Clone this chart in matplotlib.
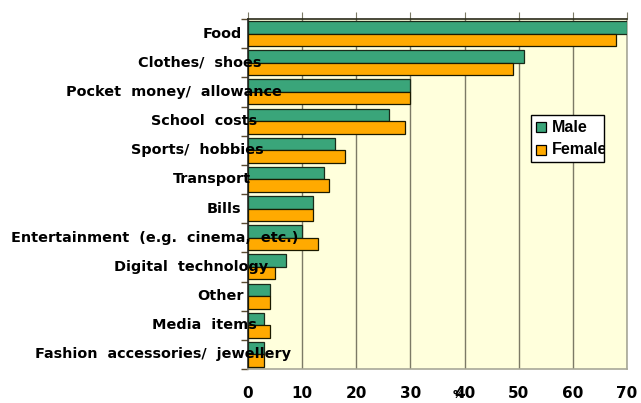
import matplotlib
matplotlib.use("Agg")
import matplotlib.pyplot as plt
import matplotlib.transforms as mtransforms
from matplotlib.patches import Rectangle
import numpy as np

categories = [
    "Food",
    "Clothes/  shoes",
    "Pocket  money/  allowance",
    "School  costs",
    "Sports/  hobbies",
    "Transport",
    "Bills",
    "Entertainment  (e.g.  cinema,  etc.)",
    "Digital  technology",
    "Other",
    "Media  items",
    "Fashion  accessories/  jewellery",
]
male = [70, 51, 30, 26, 16, 14, 12, 10, 7, 4, 3, 3]
female = [68, 49, 30, 29, 18, 15, 12, 13, 5, 4, 4, 3]
x_ticks = [0, 10, 20, 30, 40, 50, 60, 70]
series_names = ["Male", "Female"]

GREEN = "#3aa57a"
ORANGE = "#ffaa00"
BG = "#ffffdc"
GRID = "#7c7a66"

fig = plt.figure(figsize=(6.41, 4.03), dpi=100)
ax = fig.add_axes([248 / 641, 1 - 369 / 403, (627 - 248) / 641, (369 - 19) / 403])
ax.set_facecolor(BG)

n = len(categories)
y = np.arange(n)
h = 0.43
ax.barh(y - h / 2, male, height=h, color=GREEN, edgecolor="#1a2a1a", linewidth=0.9, zorder=3)
ax.barh(y + h / 2, female, height=h, color=ORANGE, edgecolor="#1a1a00", linewidth=0.9, zorder=3)

ax.set_xlim(0, 70)
ax.set_ylim(n - 0.5, -0.5)
ax.set_xticks(x_ticks)
ax.set_xticklabels([str(v) for v in x_ticks], fontsize=11, fontweight="bold",
                   family="DejaVu Sans")
ax.xaxis.grid(True, color=GRID, linewidth=1.0, zorder=1)
ax.tick_params(axis="x", bottom=False, top=True, labelbottom=True, labeltop=False,
               direction="out", length=5, color=GRID, pad=7)

# Category separators on the left axis
ax.set_yticks([])
ax.set_yticks(np.arange(n + 1) - 0.5, minor=True)
ax.tick_params(axis="y", which="minor", direction="out", length=5, color="#5a4a30", width=1)

for side, col in (("left", "#2a2a2a"), ("top", "#2a2a1a"), ("right", "#a8a898"), ("bottom", "#a8a898")):
    ax.spines[side].set_color(col)
    ax.spines[side].set_linewidth(1.2)

# Category labels: right-aligned near the axis, spilling a little onto the bars
label_texts = []
for i, name in enumerate(categories):
    t = ax.text(0, i, name, ha="left", va="center", fontsize=10.4, fontweight="bold",
                family="DejaVu Sans", color="black", zorder=5,
                transform=ax.get_yaxis_transform())
    label_texts.append(t)

fig.canvas.draw()
renderer = fig.canvas.get_renderer()
for t in label_texts:
    w = t.get_window_extent(renderer).width
    shift = -14.5 - 0.775 * w
    t.set_transform(mtransforms.offset_copy(ax.get_yaxis_transform(), fig=fig,
                                            x=shift * 72 / fig.dpi, units="points"))

# Axis unit marker
ax.text(0.555, -0.075, "%", transform=ax.transAxes, ha="center", va="center",
        fontsize=8, fontweight="bold", family="DejaVu Sans")

# Legend box, text clipped to its frame
lx0, ly0 = (531 - 248) / 379, (369 - 162) / 350
lw, lh = (604 - 531) / 379, (162 - 115) / 350
frame = Rectangle((lx0, ly0), lw, lh, transform=ax.transAxes, facecolor="white",
                  edgecolor="black", linewidth=1.0, zorder=6)
ax.add_patch(frame)
clip_box = mtransforms.TransformedBbox(mtransforms.Bbox.from_bounds(lx0, ly0, lw, lh),
                                       ax.transAxes)
for k, (name, col) in enumerate(zip(series_names, [GREEN, ORANGE])):
    yc = ly0 + lh * (0.74 - 0.48 * k)
    ax.add_patch(Rectangle((lx0 + 0.013, yc - 0.014), 0.026, 0.028, transform=ax.transAxes,
                           facecolor=col, edgecolor="black", linewidth=0.9, zorder=7))
    t = ax.text(lx0 + 0.055, yc, name, transform=ax.transAxes, ha="left", va="center",
                fontsize=11.5, fontweight="bold", family="Liberation Sans", zorder=7)
    t.set_clip_path(None)
    t.set_clip_box(clip_box)
    t.set_clip_on(True)

fig.savefig("out.png", dpi=100, facecolor="white")
